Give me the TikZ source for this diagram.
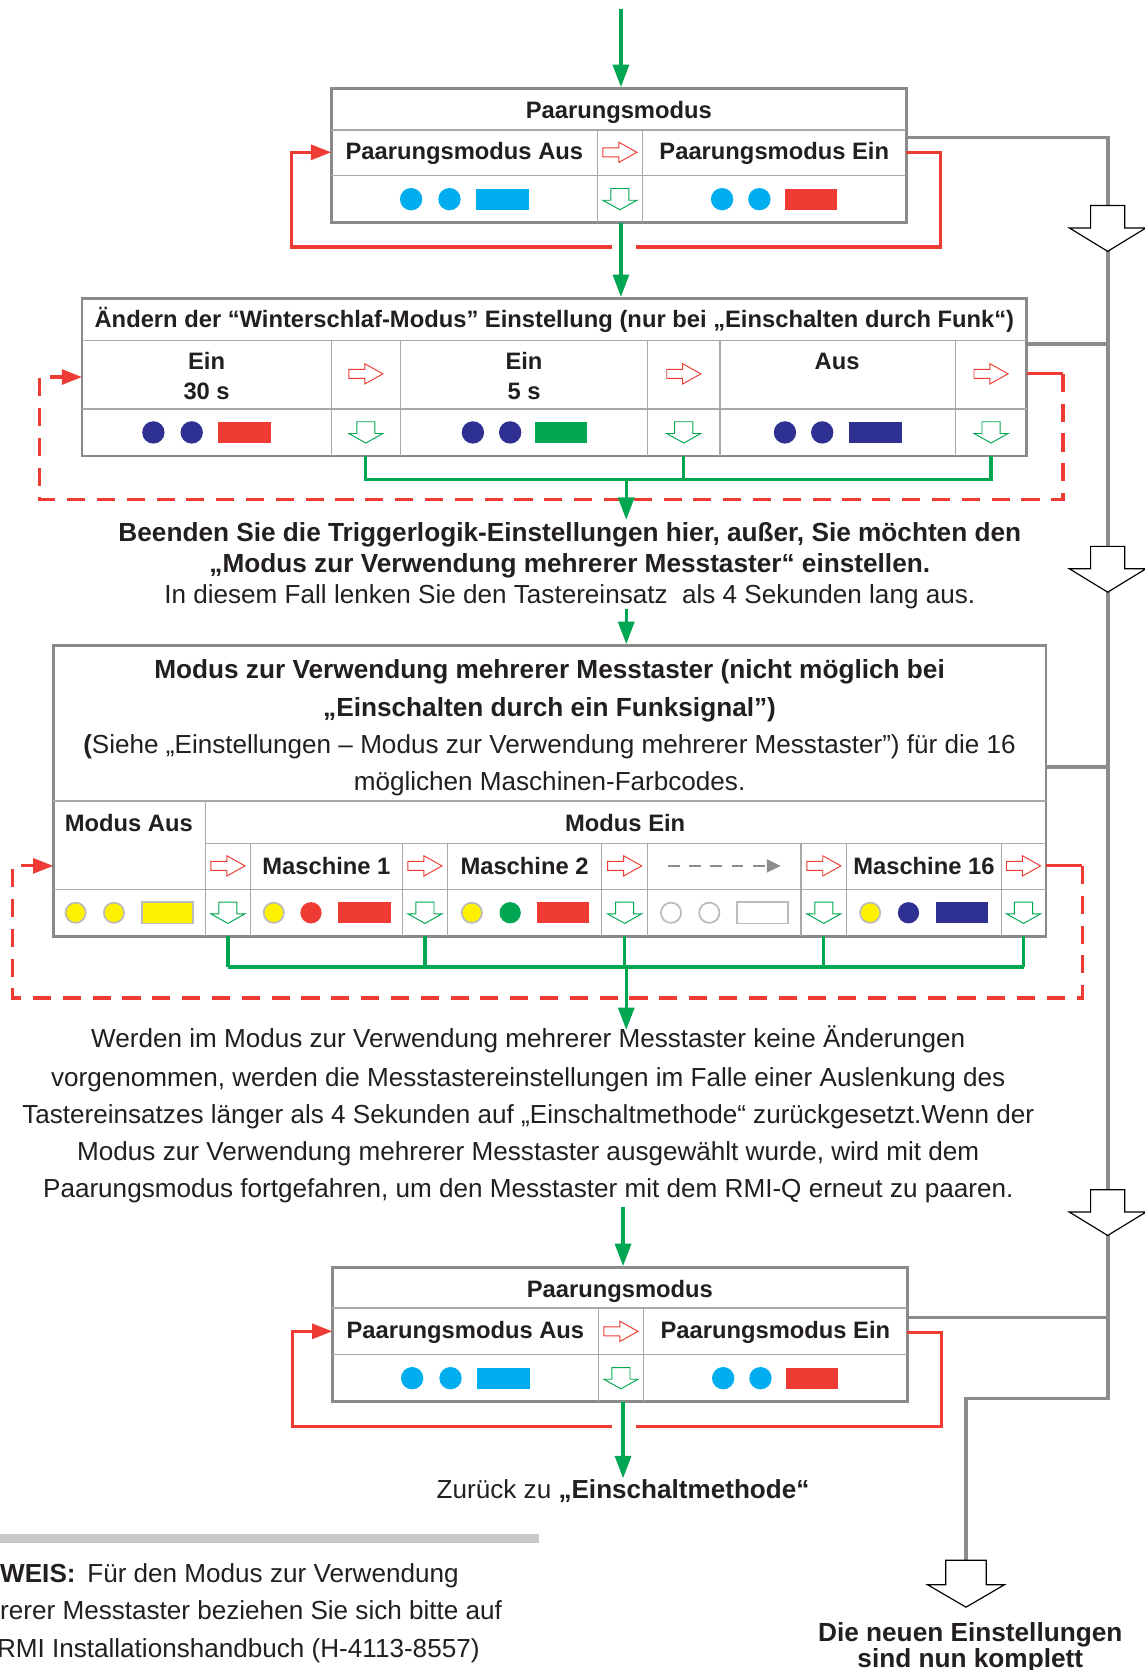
\documentclass[tikz,border=0pt]{standalone}
\usepackage{fontspec}
\setmainfont{Liberation Sans}
\usetikzlibrary{arrows.meta}
\definecolor{grn}{HTML}{00A651}
\definecolor{rd}{HTML}{EE3B33}
\definecolor{cy}{HTML}{00AEEF}
\definecolor{nv}{HTML}{2E3192}
\definecolor{yl}{HTML}{FFF200}
\definecolor{bordergray}{HTML}{8A8A8A}
\definecolor{linegray}{HTML}{A8A8A8}
\definecolor{conngray}{HTML}{8C8C8C}
\definecolor{outl}{HTML}{BBBBBB}
\definecolor{barcol}{HTML}{C8C8C8}
\definecolor{ink}{HTML}{231F20}
\tikzset{
  cell/.style={font=\fontsize{22.3pt}{26pt}\selectfont\bfseries, text=ink, inner sep=0pt, text height=15.9pt, text depth=0pt},
  txtbody/.style={font=\fontsize{24.5pt}{30pt}\selectfont, text=ink, inner sep=0pt, text height=17.6pt, text depth=0pt},
  txtbold/.style={font=\fontsize{24.6pt}{30pt}\selectfont\bfseries, text=ink, inner sep=0pt, text height=17.6pt, text depth=0pt},
  tbox/.style={draw=bordergray, line width=2.5pt, fill=white, inner sep=0pt},
  innerln/.style={draw=linegray, line width=1.2pt},
  gline/.style={draw=grn, line width=3pt},
  garrow/.style={gline, -{Triangle[length=21pt,width=15pt]}},
  rline/.style={draw=rd, line width=3pt},
  rarrow/.style={rline, -{Triangle[length=19pt,width=14pt]}},
  rdash/.style={dash pattern=on 17pt off 11pt},
  cline/.style={draw=conngray, line width=3.5pt},
  harr/.pic={\draw[draw=rd, line width=0.9pt, fill=white] (-16,-4.25) -- (-1,-4.25) -- (-1,-9.5) -- (16,0) -- (-1,9.5) -- (-1,4.25) -- (-16,4.25) -- cycle;},
  varr/.pic={\draw[draw=grn, line width=0.9pt, fill=white] (-8.5,-10) -- (8.5,-10) -- (8.5,1) -- (16,1) -- (0,10) -- (-16,1) -- (-8.5,1) -- cycle;},
  bigarr/.pic={\draw[black, line width=1.1pt, fill=white] (-16,0) -- (16,0) -- (16,21) -- (36,21) -- (0,43) -- (-36,21) -- (-16,21) -- cycle;},
  bigarrb/.pic={\draw[black, line width=1.1pt, fill=white] (-19,0) -- (19,0) -- (19,23) -- (36,23) -- (0,44) -- (-36,23) -- (-19,23) -- cycle;},
}
\begin{document}
\begin{tikzpicture}[x=1pt,y=-1pt]
\useasboundingbox (0,0) rectangle (1075,1568);
\fill[white] (0,0) rectangle (1075,1568);

% ---------- gray connector (drawn first) ----------
\coordinate (g1) at (851,129);
\coordinate (g2) at (964,323);
\coordinate (g3) at (982,720);
\coordinate (g4) at (852,1237);
\coordinate (gt) at (1040,129);
\coordinate (gb) at (1040,1313);
\coordinate (gl) at (907,1313);
\coordinate (ge) at (907,1465);
\draw[cline] (g1) -- (gt) -- (gb) -- (gl) -- (ge);
\draw[cline] (g2) -- (g2 -| gt);
\draw[cline] (g3) -- (g3 -| gt);
\draw[cline] (g4) -- (g4 -| gt);
\pic at (1040,193) {bigarr};
\pic at (1040,513) {bigarr};
\pic at (1040,1117) {bigarr};
\pic at (907,1465) {bigarrb};

% ---------- Box 1 ----------
\node[tbox, minimum width=540pt, minimum height=126pt] (B1) at (581,146) {};
\draw[innerln] (311,122) -- (851,122) (311,165) -- (851,165) (561,122) -- (561,209) (603,122) -- (603,209);
\node[cell] (B1t) at (581,103) {Paarungsmodus};
\node[cell] (B1a) at (436,142) {Paarungsmodus Aus};
\node[cell] (B1e) at (727,142) {Paarungsmodus Ein};
\pic at (582,143) {harr};
\pic at (582,187) {varr};
\fill[cy] (386,187) circle (10.5pt) (422,187) circle (10.5pt);
\fill[cy] (447,177) rectangle (497,197);
\fill[cy] (678,187) circle (10.5pt) (713,187) circle (10.5pt);
\fill[rd] (737,177) rectangle (786,197);

% red loop box 1
\coordinate (r1a) at (851,143);
\coordinate (r1b) at (883,232);
\coordinate (r1c) at (597,232);
\coordinate (r1d) at (575,232);
\coordinate (r1e) at (274,143);
\coordinate (r1f) at (311,143);
\draw[rline] (r1a) -| (r1b) -- (r1c);
\draw[rarrow] (r1d) -- (r1d -| r1e) |- (r1f);

% ---------- Box 2 ----------
\node[tbox, minimum width=887pt, minimum height=148pt] (B2) at (520.5,354) {};
\draw[innerln] (77,320) -- (964,320) (77,384) -- (964,384);
\foreach \cx in {311,376,608,676,897} \draw[innerln] (\cx,320) -- (\cx,428);
\node[cell] (B2t) at (520.5,300) {Ändern der “Winterschlaf-Modus” Einstellung (nur bei „Einschalten durch Funk“)};
\node[cell] (B2a1) at (194,339) {Ein};
\node[cell] (B2a2) at (194,367) {30 s};
\node[cell] (B2b1) at (492,339) {Ein};
\node[cell] (B2b2) at (492,367) {5 s};
\node[cell] (B2c1) at (786,339) {Aus};
\foreach \cx in {343.5,642,930.5} {\pic at (\cx,351) {harr}; \pic at (\cx,406) {varr};}
\fill[nv] (144,406) circle (10.5pt) (180,406) circle (10.5pt);
\fill[rd] (205,396) rectangle (254,416);
\fill[nv] (444,406) circle (10.5pt) (479,406) circle (10.5pt);
\fill[grn] (502,396) rectangle (551,416);
\fill[nv] (737,406) circle (10.5pt) (772,406) circle (10.5pt);
\fill[nv] (797,396) rectangle (847,416);

% red dashed loop box 2
\coordinate (r2a) at (964,351);
\coordinate (r2k) at (998,351);
\coordinate (r2b) at (998,469);
\coordinate (r2c) at (37,354);
\coordinate (r2d) at (77,354);
\draw[rline] (r2a) -- (r2k);
\draw[rarrow, rdash] (r2k) -- (r2b) -| (r2c) -- (r2d);

% green from box 2
\coordinate (s2a) at (343.5,428);
\coordinate (s2b) at (642,428);
\coordinate (s2c) at (930.5,428);
\coordinate (h2) at (588,450);
\coordinate (e2) at (588,488);
\draw[gline] (s2a) |- (h2) (s2b) -- (s2b |- h2) (s2c) |- (h2);
\draw[garrow] (h2) -- (e2);

% ---------- middle text ----------
\node[txtbold] (T1) at (535,500) {Beenden Sie die Triggerlogik-Einstellungen hier, außer, Sie möchten den};
\node[txtbold] (T2) at (535,529) {„Modus zur Verwendung mehrerer Messtaster“ einstellen.};
\node[txtbody] (T3) at (535,558) {In diesem Fall lenken Sie den Tastereinsatz\ \ als 4 Sekunden lang aus.};

% ---------- Box 3 ----------
\node[tbox, minimum width=932pt, minimum height=273pt] (B3) at (516,742.5) {};
\draw[innerln] (50,752) -- (982,752) (193,792) -- (982,792) (50,835) -- (982,835) (193,752) -- (193,879);
\foreach \cx in {235,378,420,565,608,752,795,940} \draw[innerln] (\cx,792) -- (\cx,879);
\node[txtbold] (B3t1) at (516,628) {Modus zur Verwendung mehrerer Messtaster (nicht möglich bei};
\node[txtbold] (B3t2) at (516,664) {„Einschalten durch ein Funksignal”)};
\node[txtbody] (B3t3) at (516,699) {\textbf{(}Siehe „Einstellungen – Modus zur Verwendung mehrerer Messtaster”) für die 16};
\node[txtbody] (B3t4) at (516,733) {möglichen Maschinen-Farbcodes.};
\node[cell] (B3aus) at (121,773) {Modus Aus};
\node[cell] (B3ein) at (587,773) {Modus Ein};
\node[cell] (M1) at (306.5,813) {Maschine 1};
\node[cell] (M2) at (492.5,813) {Maschine 2};
\node[cell] (M16) at (867.5,813) {Maschine 16};
\foreach \cx in {214,399,586.5,773.5,961} {\pic at (\cx,813) {harr}; \pic at (\cx,857) {varr};}
\coordinate (da) at (627,813);
\coordinate (db) at (733,813);
\draw[draw=conngray, line width=2.5pt, dash pattern=on 11pt off 9pt, -{Triangle[length=13pt,width=12pt]}] (da) -- (db);
% colour codes
\filldraw[fill=yl, draw=outl, line width=1.6pt] (71,857) circle (9.5pt) (107,857) circle (9.5pt);
\filldraw[fill=yl, draw=outl, line width=1.6pt] (133,847) rectangle (181,867);
\filldraw[fill=yl, draw=outl, line width=1.6pt] (257,857) circle (9.5pt);
\fill[rd] (292,857) circle (10pt);
\fill[rd] (317,847) rectangle (367,867);
\filldraw[fill=yl, draw=outl, line width=1.6pt] (443,857) circle (9.5pt);
\fill[grn] (479,857) circle (10pt);
\fill[rd] (504,847) rectangle (553,867);
\filldraw[fill=white, draw=outl, line width=1.6pt] (630,857) circle (9.5pt) (666,857) circle (9.5pt);
\filldraw[fill=white, draw=outl, line width=1.6pt] (692,847) rectangle (740,867);
\filldraw[fill=yl, draw=outl, line width=1.6pt] (817,857) circle (9.5pt);
\fill[nv] (853,857) circle (10pt);
\fill[nv] (879,847) rectangle (928,867);

% red dashed loop box 3
\coordinate (r3a) at (982,813);
\coordinate (r3k) at (1016,813);
\coordinate (r3b) at (1016,937);
\coordinate (r3c) at (12,813);
\coordinate (r3d) at (50,813);
\draw[rline] (r3a) -- (r3k);
\draw[rarrow, rdash] (r3k) -- (r3b) -| (r3c) -- (r3d);

% green from box 3
\coordinate (h3) at (588,908);
\coordinate (e3) at (588,967);
\foreach \cx in {214,399,773.5,961} \draw[gline] (\cx,879) -- (\cx,908);
\draw[gline] (214,908) -- (961,908);
\draw[gline] (586.5,879) -- (586.5,908);
\draw[garrow] (h3) -- (e3);

% green into box 3
\coordinate (s3) at (588,572);
\draw[garrow] (s3) -- (s3 |- B3.north);

% ---------- paragraph ----------
\node[txtbody] (P1) at (496,975) {Werden im Modus zur Verwendung mehrerer Messtaster keine Änderungen};
\node[txtbody] (P2) at (496,1011) {vorgenommen, werden die Messtastereinstellungen im Falle einer Auslenkung des};
\node[txtbody] (P3) at (496,1046) {Tastereinsatzes länger als 4 Sekunden auf „Einschaltmethode“ zurückgesetzt.Wenn der};
\node[txtbody] (P4) at (496,1081) {Modus zur Verwendung mehrerer Messtaster ausgewählt wurde, wird mit dem};
\node[txtbody] (P5) at (496,1116) {Paarungsmodus fortgefahren, um den Messtaster mit dem RMI-Q erneut zu paaren.};

% ---------- Box 4 ----------
\node[tbox, minimum width=540pt, minimum height=126pt] (B4) at (582,1253) {};
\draw[innerln] (312,1228) -- (852,1228) (312,1272) -- (852,1272) (562,1228) -- (562,1316) (604,1228) -- (604,1316);
\node[cell] (B4t) at (582,1210) {Paarungsmodus};
\node[cell] (B4a) at (437,1249) {Paarungsmodus Aus};
\node[cell] (B4e) at (728,1249) {Paarungsmodus Ein};
\pic at (583,1250) {harr};
\pic at (583,1294) {varr};
\fill[cy] (387,1294) circle (10.5pt) (423,1294) circle (10.5pt);
\fill[cy] (448,1284) rectangle (498,1304);
\fill[cy] (679,1294) circle (10.5pt) (714,1294) circle (10.5pt);
\fill[rd] (738,1284) rectangle (787,1304);

% red loop box 4
\coordinate (r4a) at (852,1251);
\coordinate (r4b) at (884,1339);
\coordinate (r4c) at (597,1339);
\coordinate (r4d) at (575,1339);
\coordinate (r4e) at (275,1250);
\coordinate (r4f) at (312,1250);
\draw[rline] (r4a) -| (r4b) -- (r4c);
\draw[rarrow] (r4d) -- (r4d -| r4e) |- (r4f);

% green arrows
\coordinate (top) at (583,8);
\draw[garrow] (top) -- (top |- B1.north);
\coordinate (s1) at (583,209);
\draw[garrow] (s1) -- (s1 |- B2.north);
\coordinate (s4) at (585,1133);
\draw[garrow] (s4) -- (s4 |- B4.north);
\coordinate (s5) at (585,1316);
\coordinate (e5) at (585,1388);
\draw[garrow] (s5) -- (e5);

\node[txtbody] (Z) at (585,1398) {Zurück zu \textbf{„Einschaltmethode“}};

% ---------- note ----------
\fill[barcol] (0,1440) rectangle (506,1449);
\node[txtbody, anchor=west] (N1) at (0,1477) {\textbf{WEIS:}\hspace{0.45em}Für den Modus zur Verwendung};
\node[txtbody, anchor=west] (N2) at (0,1512) {rerer Messtaster beziehen Sie sich bitte auf};
\node[txtbody, anchor=west] (N3) at (-3,1547) {RMI Installationshandbuch (H-4113-8557)};

\node[txtbold] (F1) at (911,1532) {Die neuen Einstellungen};
\node[txtbold] (F2) at (911,1557) {sind nun komplett};
\end{tikzpicture}
\end{document}
